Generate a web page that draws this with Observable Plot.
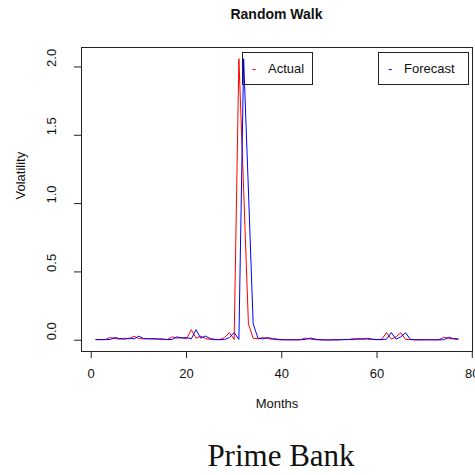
<!DOCTYPE html>
<html>
<head>
<meta charset="utf-8">
<script src="https://cdn.jsdelivr.net/npm/d3@7"></script>
<script src="https://cdn.jsdelivr.net/npm/@observablehq/plot@0.6"></script>
<style>
  body { margin: 0; background: #fff; }
  #wrap { position: relative; width: 475px; height: 475px; overflow: hidden; font-family: "Liberation Sans", Arial, sans-serif; color: #111; }
  #chart { position: absolute; left: 0; top: 0; }
  .title { position: absolute; left: 276.5px; top: 6px; transform: translateX(-50%); font-weight: bold; font-size: 14px; line-height: 16px; white-space: nowrap; }
  .caption { position: absolute; left: 281px; top: 439px; transform: translateX(-50%); font-family: "Liberation Serif", "Times New Roman", serif; font-size: 31px; line-height: 33px; white-space: nowrap; }
  .lg { position: absolute; box-sizing: border-box; border: 1px solid #222; height: 33px; top: 52px; }
  .lg .sw { position: absolute; left: 9px; top: 8px; font-size: 13px; line-height: 16px; }
  .lg .lt { position: absolute; left: 25px; top: 8px; font-size: 13px; line-height: 16px; white-space: nowrap; }
</style>
</head>
<body>
<div id="wrap">
  <div id="chart"></div>
  <div class="title">Random Walk</div>
  <div class="lg" style="left:242px;width:71px;"><span class="sw" style="color:#ff0000">-</span><span class="lt">Actual</span></div>
  <div class="lg" style="left:378px;width:91px;"><span class="sw" style="color:#0000ff">-</span><span class="lt">Forecast</span></div>
  <div class="caption">Prime Bank</div>
</div>
<script>
const months = [1,2,3,4,5,6,7,8,9,10,11,12,13,14,15,16,17,18,19,20,21,22,23,24,25,26,27,28,29,30,31,32,33,34,35,36,37,38,39,40,41,42,43,44,45,46,47,48,49,50,51,52,53,54,55,56,57,58,59,60,61,62,63,64,65,66,67,68,69,70,71,72,73,74,75,76,77];
const actual = [0.005,0.004,0.006,0.020,0.012,0.008,0.015,0.010,0.030,0.012,
                0.010,0.012,0.008,0.010,0.004,0.006,0.025,0.015,0.020,0.010,
                0.077,0.015,0.030,0.012,0.006,0.004,0.005,0.020,0.056,0.006,
                2.060,1.100,0.120,0.015,0.010,0.020,0.012,0.008,0.004,0.003,
                0.004,0.003,0.003,0.006,0.016,0.008,0.004,0.003,0.002,0.003,
                0.003,0.004,0.006,0.004,0.012,0.006,0.014,0.008,0.005,0.004,
                0.008,0.056,0.008,0.025,0.055,0.006,0.004,0.003,0.003,0.004,
                0.003,0.003,0.004,0.022,0.012,0.010,0.005];
const forecast = [0.004,0.005,0.004,0.006,0.020,0.012,0.008,0.015,0.010,0.030,
                  0.012,0.010,0.012,0.008,0.010,0.004,0.006,0.025,0.015,0.020,
                  0.010,0.077,0.015,0.030,0.012,0.006,0.004,0.005,0.020,0.056,
                  0.006,2.060,1.100,0.120,0.015,0.010,0.020,0.012,0.008,0.004,
                  0.003,0.004,0.003,0.003,0.006,0.016,0.008,0.004,0.003,0.002,
                  0.003,0.003,0.004,0.006,0.004,0.012,0.006,0.014,0.008,0.005,
                  0.004,0.008,0.056,0.008,0.025,0.055,0.006,0.004,0.003,0.003,
                  0.004,0.003,0.003,0.004,0.022,0.012,0.010];
const xTicks = [0, 20, 40, 60, 80];
const yTicks = [0, 0.5, 1.0, 1.5, 2.0];
const yTickLabels = ["0.0", "0.5", "1.0", "1.5", "2.0"];
const xLabel = "Months";
const yLabel = "Volatility";

const actualRows = months.map((m, i) => ({month: m, value: actual[i]}));
const forecastRows = months.map((m, i) => ({month: m, value: forecast[i]}));

const chart = Plot.plot({
  width: 475,
  height: 475,
  marginLeft: 81,
  marginRight: 3,
  marginTop: 47,
  marginBottom: 124,
  style: { fontFamily: "Liberation Sans, Arial, sans-serif", fontSize: "13px", color: "#111", background: "transparent", overflow: "visible" },
  x: { domain: [-2.04, 80.04] },
  y: { domain: [-0.0824, 2.1424] },
  marks: [
    Plot.frame({ stroke: "#222" }),
    Plot.axisX({ ticks: xTicks, tickSize: 7, tickPadding: 10, label: null, fontSize: 13, stroke: "#222" }),
    Plot.axisY({ ticks: yTicks, tickSize: 7, tickFormat: () => "", label: null, stroke: "#222" }),
    Plot.text(yTicks, { y: d => d, text: (d, i) => yTickLabels[i], frameAnchor: "left", dx: -30, rotate: -90, fontSize: 13, fill: "#111" }),
    Plot.line(actualRows, { x: "month", y: "value", stroke: "#ff0000", strokeWidth: 1 }),
    Plot.line(forecastRows, { x: "month", y: "value", stroke: "#0000ff", strokeWidth: 1 }),
    Plot.text([xLabel], { text: d => d, frameAnchor: "bottom", dy: 56, fontSize: 13, fill: "#111" }),
    Plot.text([yLabel], { text: d => d, frameAnchor: "left", dx: -61, rotate: -90, fontSize: 13, fill: "#111" })
  ]
});
document.getElementById("chart").appendChild(chart);
</script>
</body>
</html>
